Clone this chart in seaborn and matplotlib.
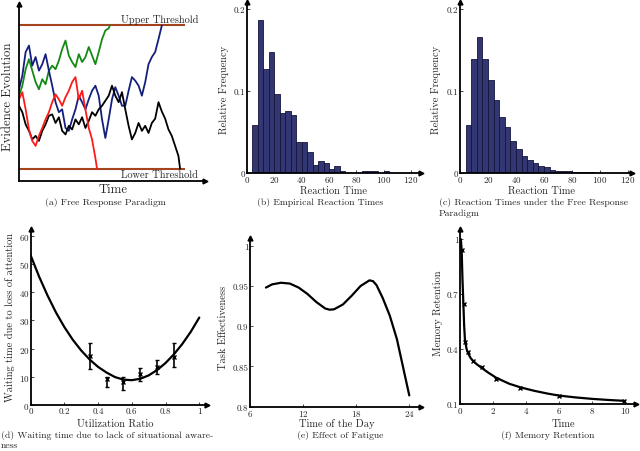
import numpy as np
import matplotlib
matplotlib.use("Agg")
import matplotlib.pyplot as plt
import seaborn as sns

# (a) random walks, values every 2 time units (threshold = +/-100)
green_walk = [2, 16, 39, 53, 37, 21, 11, 25, 18, 37, 44, 39, 51, 67, 79, 58, 49, 42,
              60, 49, 56, 70, 58, 46, 63, 81, 93, 96]
green_hit = (54.7, 100)
blue_walk = [11, 30, 63, 72, 44, 56, 37, 46, 60, 37, 16, -7, -21, -17, -43, -47, -31,
             -17, 2, -7, -17, -3, 9, 16, 2, -31, -57, -31, -3, 14, 2, -12, -12, 9, 28,
             23, 16, 2, 21, 46, 56, 63, 81]
blue_hit = (86, 100)
red_walk = [-3, 7, -17, -45, -61, -68, -54, -43, -31, -21, -7, 4, -3, -12, 0, 9, 21,
            28, -3, 9, -17, -43, -59, -85]
red_hit = (47, -100)
black_walk = [-12, -21, -38, -47, -59, -54, -61, -47, -38, -26, -24, -36, -28, -47, -52,
              -40, -45, -31, -38, -28, -43, -33, -21, -26, -17, -12, -5, 2, 16, 2, -7,
              7, -17, -40, -59, -50, -36, -47, -40, -50, -36, -30, -7, -20, -30, -45,
              -54, -68, -82]
black_hit = (97, -100)
thresholds = [100, -100]

# (b), (c) histograms: bins of width 4 starting at 4
freq_b = [0.0585, 0.187, 0.127, 0.147, 0.096, 0.073, 0.076, 0.071, 0.038, 0.038,
          0.025, 0.010, 0.015, 0.012, 0.005, 0.008, 0.002, 0, 0, 0, 0.002, 0.002,
          0.002, 0, 0.002]
freq_c = [0.059, 0.139, 0.166, 0.139, 0.113, 0.089, 0.068, 0.056, 0.039, 0.029,
          0.021, 0.016, 0.012, 0.008, 0.0073, 0.004, 0.003, 0.003, 0.002, 0.0015,
          0.001, 0.001, 0.0008]

# (d) waiting time
util_curve = [0, 0.05, 0.1, 0.15, 0.2, 0.25, 0.3, 0.35, 0.4, 0.45, 0.5, 0.55, 0.6,
              0.65, 0.7, 0.75, 0.8, 0.85, 0.9, 0.95, 1.0]
wait_curve = [53.0, 45.5, 38.8, 32.8, 27.6, 23.1, 19.3, 16.1, 13.5, 11.5, 9.9, 9.0,
              8.8, 9.3, 10.5, 12.4, 14.9, 18.0, 21.7, 26.0, 31.0]
util_pts = [0.35, 0.45, 0.55, 0.65, 0.75, 0.85]
wait_pts = [17.5, 9.2, 8.0, 11.0, 13.3, 17.1]
wait_lo = [12.8, 6.3, 5.4, 8.6, 11.0, 13.6]
wait_hi = [22.0, 10.0, 9.8, 13.1, 15.9, 22.0]

# (e) fatigue
hour = [7.8, 8.5, 9.5, 10.5, 11.5, 12.5, 13.5, 14.5, 15.0, 15.5, 16.5, 17.5, 18.5,
        19.5, 19.9, 20.3, 21.0, 21.8, 22.6, 23.3, 24.0]
effect = [0.948, 0.952, 0.954, 0.953, 0.948, 0.940, 0.930, 0.922, 0.9205, 0.921,
          0.927, 0.938, 0.950, 0.957, 0.956, 0.951, 0.935, 0.913, 0.884, 0.849, 0.814]

# (f) memory retention
mem_t = [0.05, 0.1, 0.15, 0.2, 0.25, 0.3, 0.4, 0.5, 0.65, 0.8, 1.0, 1.3, 1.7, 2.2,
         3.0, 3.7, 4.5, 5.3, 6.0, 7.0, 8.0, 9.0, 10.0]
mem_curve = [1.0, 0.94, 0.78, 0.66, 0.53, 0.45, 0.40, 0.375, 0.35, 0.335, 0.318,
             0.298, 0.272, 0.243, 0.21, 0.19, 0.172, 0.157, 0.146, 0.136, 0.128,
             0.122, 0.117]
mem_pts_t = [0.1, 0.22, 0.32, 0.5, 0.81, 1.31, 2.18, 3.64, 6.0, 9.96]
mem_pts = [0.94, 0.645, 0.436, 0.382, 0.336, 0.30, 0.236, 0.187, 0.142, 0.118]

sns.set_style("ticks")
plt.rcParams["font.family"] = ["cmr10", "DejaVu Serif"]
plt.rcParams["mathtext.fontset"] = "cm"
plt.rcParams["axes.formatter.use_mathtext"] = True

W, H = 640, 452
fig = plt.figure(figsize=(6.4, 4.52), dpi=100)
BAR = "#323672"
FS = 7.5
CAP = 7.0


def box(l, t, r, b):
    return [l / W, 1 - b / H, (r - l) / W, (b - t) / H]


def style(ax):
    for s in ["top", "right"]:
        ax.spines[s].set_visible(False)
    for s in ["left", "bottom"]:
        ax.spines[s].set_linewidth(1.3)
        ax.spines[s].set_color("black")
    ax.plot(1, 0, ">k", ms=3.5, transform=ax.transAxes, clip_on=False)
    ax.plot(0, 1, "^k", ms=3.5, transform=ax.transAxes, clip_on=False)
    ax.tick_params(direction="in", length=2, width=0.6, labelsize=6.5, pad=1)


def labels(ax, xl, xpos, yl, ypos, fs=FS):
    ax.set_xlabel(xl, fontsize=fs)
    ax.set_ylabel(yl, fontsize=fs)
    inv = ax.transAxes.inverted()
    ax.xaxis.set_label_coords(*inv.transform((xpos[0], H - xpos[1])))
    ax.yaxis.set_label_coords(*inv.transform((ypos[0], H - ypos[1])))
    ax.xaxis.label.set_va("center")
    ax.yaxis.label.set_va("center")


def caption(x, y, s, ha="center"):
    fig.text(x / W, 1 - y / H, s, ha=ha, va="center", fontsize=CAP)


# (a)
ax = fig.add_axes(box(19, 5, 205, 182))
style(ax)
ax.hlines(thresholds, 0, 100, color="#a3441c", lw=1.5)
for walk, hit, col in [(green_walk, green_hit, "#148a14"), (blue_walk, blue_hit, "#15207e"),
                       (black_walk, black_hit, "black"), (red_walk, red_hit, "#ff1a1a")]:
    t = np.r_[np.arange(len(walk)) * 2, hit[0]]
    e = np.r_[walk, hit[1]]
    sns.lineplot(x=t, y=e, ax=ax, color=col, lw=1.3, sort=False, estimator=None)
ax.text(108, 109, "Upper Threshold", ha="right", va="center", fontsize=FS)
ax.text(108, -107, "Lower Threshold", ha="right", va="center", fontsize=FS)
ax.set_xlim(0, 112)
ax.set_ylim(-117, 130)
ax.set_xticks([])
ax.set_yticks([])
labels(ax, "Time", (113, 190), "Evidence Evolution", (8, 97), fs=9.2)
caption(105, 203, "(a) Free Response Paradigm")

# (b), (c)
for freq, pos, xmax, xlab, ylab in [(freq_b, (247, 3, 421, 174), 127.3, (333, 191), (224, 90)),
                                    (freq_c, (460, 3, 632, 174), 122.9, (542, 191), (436, 90))]:
    ax = fig.add_axes(box(*pos))
    style(ax)
    centers = 6 + 4 * np.arange(len(freq))
    sns.histplot(x=centers, weights=freq, binwidth=4, binrange=(4, 4 + 4 * len(freq)),
                 ax=ax, color=BAR, edgecolor="#15153a", linewidth=0.6, alpha=1)
    ax.set_xlim(0, xmax)
    ax.set_ylim(0, 0.2085)
    ax.set_xticks([0, 20, 40, 60, 80, 100, 120])
    ax.set_yticks([0, 0.1, 0.2])
    ax.set_yticklabels(["0", "0.1", "0.2"])
    labels(ax, "Reaction Time", xlab, "Relative Frequency", ylab)
caption(320, 203, "(b) Empirical Reaction Times")
caption(439, 203, "(c) Reaction Times under the Free Response", ha="left")
caption(439, 214, "Paradigm", ha="left")

# (d)
ax = fig.add_axes(box(30.7, 230, 206.7, 406))
style(ax)
sns.lineplot(x=util_curve, y=wait_curve, ax=ax, color="black", lw=1.6)
ax.errorbar(util_pts, wait_pts,
            yerr=[np.subtract(wait_pts, wait_lo), np.subtract(wait_hi, wait_pts)],
            fmt="x", color="black", ms=3, mew=1, elinewidth=1.2, capsize=1.5)
ax.set_xlim(0, 1.044)
ax.set_ylim(0, 62.4)
ax.set_xticks([0, 0.2, 0.4, 0.6, 0.8, 1])
ax.set_xticklabels(["0", "0.2", "0.4", "0.6", "0.8", "1"])
ax.set_yticks([0, 10, 20, 30, 40, 50, 60])
labels(ax, "Utilization Ratio", (115, 424), "Waiting time due to loss of attention", (10, 318))
caption(1, 436, "(d) Waiting time due to lack of situational aware-", ha="left")
caption(1, 446, "ness", ha="left")

# (e)
ax = fig.add_axes(box(250, 239, 420.7, 407.7))
style(ax)
sns.lineplot(x=hour, y=effect, ax=ax, color="black", lw=1.6)
ax.set_xlim(6, 25.29)
ax.set_ylim(0.8, 1.0096)
ax.set_xticks([6, 12, 18, 24])
ax.set_yticks([0.8, 0.85, 0.9, 0.95, 1])
ax.set_yticklabels(["0.8", "0.85", "0.9", "0.95", "1"])
labels(ax, "Time of the Day", (337, 424), "Task Effectiveness", (223, 328))
caption(340, 436, "(e) Effect of Fatigue")

# (f)
ax = fig.add_axes(box(460, 230, 635.7, 405))
style(ax)
sns.lineplot(x=mem_t, y=mem_curve, ax=ax, color="black", lw=1.6)
ax.plot(mem_pts_t, mem_pts, "x", color="black", ms=3, mew=1)
ax.set_xlim(0, 10.65)
ax.set_ylim(0.1, 1.055)
ax.set_xticks([0, 2, 4, 6, 8, 10])
ax.set_yticks([0.1, 0.4, 0.7, 1])
ax.set_yticklabels(["0.1", "0.4", "0.7", "1"])
labels(ax, "Time", (563, 424), "Memory Retention", (438, 313))
caption(548, 436, "(f) Memory Retention")

fig.savefig("out.png", dpi=100)
